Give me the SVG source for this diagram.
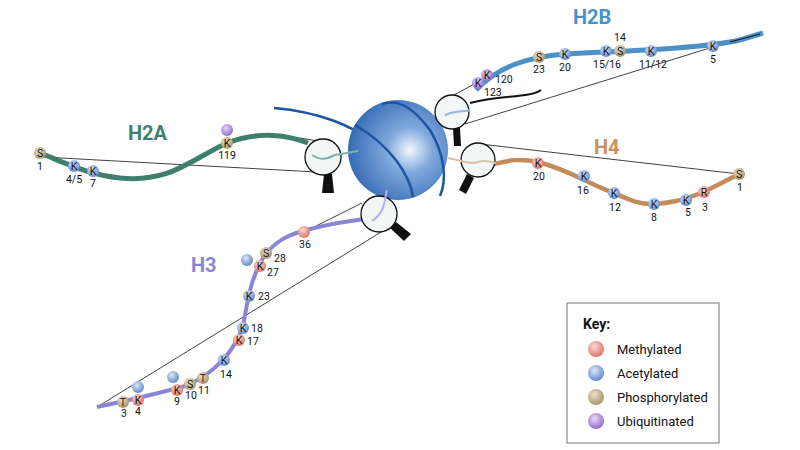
<svg xmlns="http://www.w3.org/2000/svg" width="800" height="450" viewBox="0 0 800 450">
<defs>
<radialGradient id="gS" cx="0.62" cy="0.5" r="0.65"><stop offset="0" stop-color="#f4f8fc"/><stop offset="0.35" stop-color="#7fa8dc"/><stop offset="1" stop-color="#2f66b2"/></radialGradient>
<radialGradient id="gM" cx="0.4" cy="0.35" r="0.7"><stop offset="0" stop-color="#fbd9d2"/><stop offset="1" stop-color="#de6e62"/></radialGradient>
<radialGradient id="gA" cx="0.4" cy="0.35" r="0.7"><stop offset="0" stop-color="#dbe7f8"/><stop offset="1" stop-color="#5d84cc"/></radialGradient>
<radialGradient id="gP" cx="0.4" cy="0.35" r="0.7"><stop offset="0" stop-color="#ece4cd"/><stop offset="1" stop-color="#a38f65"/></radialGradient>
<radialGradient id="gU" cx="0.4" cy="0.35" r="0.7"><stop offset="0" stop-color="#e6d8f6"/><stop offset="1" stop-color="#9066c8"/></radialGradient>
</defs>
<style>
text{font-family:Roboto,"Liberation Sans",sans-serif;fill:#111}
.b{font-size:10.5px;text-anchor:middle}
.n{font-size:10.5px}
.c{text-anchor:middle}
.t{font-size:20px;font-weight:bold}
.m{fill:url(#gM)} .a{fill:url(#gA)} .p{fill:url(#gP)} .u{fill:url(#gU)}
.thin{stroke:#111;stroke-width:0.8;fill:none}
.lens{fill:#f2f6f5;stroke:#111;stroke-width:1.3}
.h{fill:#111}
</style>
<g id="connectors">
<path class="thin" d="M43,157 L316,172 M300,138 L318,141"/>
<path class="thin" d="M478,82 L452,96 M713,47 L465,124"/>
<path class="thin" d="M480,144 L739,174"/>
<path class="thin" d="M97,407 L386,229 M304,232 L362,203"/>
</g>
<g id="tails">
<path d="M40,153 C70,165 90,175 120,178 C170,183 190,160 227,143 C260,130 290,136 308,143" fill="none" stroke="#3f7f6d" stroke-width="5"/>
<path d="M476,90 C500,65 530,57 565,54 C620,51 700,49 740,40 L763,33" fill="none" stroke="#4b90c6" stroke-width="5"/>
<path d="M730,42 L760,34" fill="none" stroke="#111" stroke-width="1"/>
<path d="M470,103 C500,95 530,98 541,90" fill="none" stroke="#111" stroke-width="2"/>
<path d="M490,165 C510,160 520,158 538,162 C570,170 590,185 614,193 C630,200 640,205 654,204 C670,203 680,201 704,192 L739,174" fill="none" stroke="#c28b5a" stroke-width="4.5"/>
<path d="M97,407 C130,400 160,393 185,386 C215,374 235,350 243,326 C248,300 250,280 263,258 C275,240 290,234 310,229 C330,224 355,220 374,218" fill="none" stroke="#8a86d4" stroke-width="4"/>
</g>
<g id="nucleosome">
<path d="M274,108 C320,112 350,125 380,145" fill="none" stroke="#1e55a1" stroke-width="2.5"/>
<circle cx="398" cy="150" r="50" fill="url(#gS)"/>
<path d="M355,125 C390,145 410,175 413,197" fill="none" stroke="#1e55a1" stroke-width="2.5"/>
<path d="M382,104 C400,98 415,110 430,130 C445,155 447,180 440,196" fill="none" stroke="#1e55a1" stroke-width="2.5"/>
</g>
<g id="lens-h2a"><path class="h" d="M324,174 L332,174 L334,193 L322,193 Z"/><circle class="lens" cx="323" cy="157" r="18"/><path d="M312,155 C320,160 325,160 335,155 L358,151" fill="none" stroke="#7ab6ad" stroke-width="2"/></g>
<g id="lens-h2b"><path class="h" d="M453,128 L460,128 L461,146 L454,146 Z"/><circle class="lens" cx="452" cy="112" r="17"/><path d="M445,115 C455,110 465,112 470,110" fill="none" stroke="#8fb9dc" stroke-width="2"/></g>
<g id="lens-h4"><path class="h" d="M467,174 L474,178 L466,194 L459,190 Z"/><circle class="lens" cx="478" cy="160" r="17"/><path d="M448,158 C460,160 470,165 478,162 C485,159 490,162 496,163" fill="none" stroke="#d9c4a8" stroke-width="2"/></g>
<g id="lens-h3"><path class="h" d="M390,228 L396,222 L411,234 L404,241 Z"/><circle class="lens" cx="379" cy="214" r="18"/><path d="M387,190 C384,200 386,212 372,221" fill="none" stroke="#b5b0ea" stroke-width="2"/></g>
<g id="h2a">
<text class="t" x="128" y="140" style="fill:#3f7f6d">H2A</text>
<circle class="p" cx="40" cy="153" r="6"/><text class="b" x="40" y="156.5">S</text><text class="n c" x="40" y="170">1</text>
<circle class="a" cx="74" cy="166" r="6"/><text class="b" x="74" y="169.5">K</text><text class="n c" x="74" y="183">4/5</text>
<circle class="a" cx="93" cy="171" r="6"/><text class="b" x="93" y="174.5">K</text><text class="n c" x="93" y="187">7</text>
<circle class="u" cx="227" cy="130" r="6"/>
<circle class="p" cx="227" cy="143" r="6"/><text class="b" x="227" y="146.5">K</text><text class="n c" x="227" y="159">119</text>
</g>
<g id="h2b">
<text class="t" x="573" y="24" style="fill:#4b90c6">H2B</text>
<circle class="u" cx="478" cy="83" r="6"/><text class="b" x="478" y="86.5">K</text><text class="n" x="484" y="96">123</text>
<circle class="u" cx="487" cy="75" r="6"/><text class="b" x="487" y="78.5">K</text><text class="n" x="495" y="83">120</text>
<circle class="p" cx="539" cy="57" r="6"/><text class="b" x="539" y="60.5">S</text><text class="n c" x="539" y="73">23</text>
<circle class="a" cx="565" cy="54" r="6"/><text class="b" x="565" y="57.5">K</text><text class="n c" x="565" y="71">20</text>
<circle class="a" cx="606" cy="51" r="6"/><text class="b" x="606" y="54.5">K</text><text class="n c" x="607" y="68">15/16</text>
<circle class="p" cx="620" cy="51" r="6"/><text class="b" x="620" y="54.5">S</text><text class="n c" x="620" y="41">14</text>
<circle class="a" cx="651" cy="51" r="6"/><text class="b" x="651" y="54.5">K</text><text class="n c" x="653" y="68">11/12</text>
<circle class="a" cx="713" cy="46" r="6"/><text class="b" x="713" y="49.5">K</text><text class="n c" x="713" y="63">5</text>
</g>
<g id="h4">
<text class="t" x="594" y="154" style="fill:#c9915f">H4</text>
<circle class="m" cx="538" cy="163" r="6"/><text class="b" x="538" y="166.5">K</text><text class="n c" x="539" y="180">20</text>
<circle class="a" cx="584" cy="176" r="6"/><text class="b" x="584" y="179.5">K</text><text class="n c" x="583" y="194">16</text>
<circle class="a" cx="614" cy="193" r="6"/><text class="b" x="614" y="196.5">K</text><text class="n c" x="615" y="211">12</text>
<circle class="a" cx="654" cy="204" r="6"/><text class="b" x="654" y="207.5">K</text><text class="n c" x="654" y="221">8</text>
<circle class="a" cx="686" cy="200" r="6"/><text class="b" x="686" y="203.5">K</text><text class="n c" x="688" y="216">5</text>
<circle class="m" cx="704" cy="192" r="6"/><text class="b" x="704" y="195.5">R</text><text class="n c" x="705" y="211">3</text>
<circle class="p" cx="739" cy="174" r="6"/><text class="b" x="739" y="177.5">S</text><text class="n c" x="740" y="191">1</text>
</g>
<g id="h3">
<text class="t" x="191" y="272" style="fill:#8a86d4">H3</text>
<circle class="m" cx="304" cy="232" r="6"/><text class="n c" x="305" y="248">36</text>
<circle class="p" cx="266" cy="253" r="6"/><text class="b" x="266" y="256.5">S</text><text class="n" x="274" y="262">28</text>
<circle class="a" cx="247" cy="260" r="6"/>
<circle class="m" cx="260" cy="266" r="6"/><text class="b" x="260" y="269.5">K</text><text class="n" x="267" y="276">27</text>
<circle class="a" cx="249" cy="296" r="6"/><text class="b" x="249" y="299.5">K</text><text class="n" x="258" y="300">23</text>
<circle class="a" cx="243" cy="328" r="6"/><text class="b" x="243" y="331.5">K</text><text class="n" x="251" y="332">18</text>
<circle class="m" cx="239" cy="340" r="6"/><text class="b" x="239" y="343.5">K</text><text class="n" x="247" y="345">17</text>
<circle class="a" cx="224" cy="360" r="6"/><text class="b" x="224" y="363.5">K</text><text class="n c" x="226" y="378">14</text>
<circle class="p" cx="203" cy="378" r="6"/><text class="b" x="203" y="381.5">T</text><text class="n" x="198" y="394">11</text>
<circle class="p" cx="190" cy="384" r="6"/><text class="b" x="190" y="387.5">S</text><text class="n" x="185" y="399">10</text>
<circle class="a" cx="173" cy="377" r="6"/>
<circle class="m" cx="177" cy="390" r="6"/><text class="b" x="177" y="393.5">K</text><text class="n c" x="177" y="405">9</text>
<circle class="a" cx="138" cy="387" r="6"/>
<circle class="m" cx="138" cy="400" r="6"/><text class="b" x="138" y="403.5">K</text><text class="n c" x="138" y="415">4</text>
<circle class="p" cx="123" cy="402" r="6"/><text class="b" x="123" y="405.5">T</text><text class="n c" x="124" y="417">3</text>
</g>
<g id="key">
<rect x="567" y="303" width="152" height="140" fill="#fff" stroke="#777" stroke-width="1"/>
<text x="583" y="329" style="font-size:14px;font-weight:bold">Key:</text>
<circle class="m" cx="596" cy="349" r="8"/><text x="617" y="354" style="font-size:13px">Methylated</text>
<circle class="a" cx="596" cy="373" r="8"/><text x="617" y="378" style="font-size:13px">Acetylated</text>
<circle class="p" cx="596" cy="397" r="8"/><text x="617" y="402" style="font-size:13px">Phosphorylated</text>
<circle class="u" cx="596" cy="421" r="8"/><text x="617" y="426" style="font-size:13px">Ubiquitinated</text>
</g>
</svg>
